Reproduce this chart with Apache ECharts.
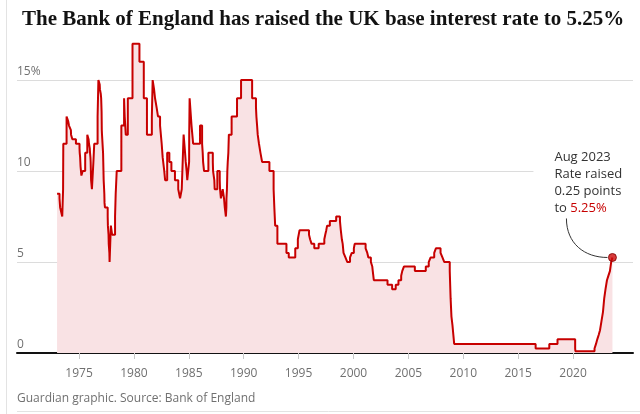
<!DOCTYPE html>
<html><head><meta charset="utf-8">
<script src="https://cdn.jsdelivr.net/npm/echarts@6/dist/echarts.min.js"></script>
<style>html,body{margin:0;padding:0;background:#fff}#c{width:640px;height:414px}</style>
</head><body><div id="c"></div><script>
const titleText = 'The Bank of England has raised the UK base interest rate to 5.25%';
const sourceText = 'Guardian graphic. Source: Bank of England';
const yearTicks = [1975, 1980, 1985, 1990, 1995, 2000, 2005, 2010, 2015, 2020];
const yTicks = [0, 5, 10, 15];
const changeDates = [
 '1973-01-01','1973-03-23','1973-04-13','1973-05-18','1973-06-22','1973-07-20','1973-07-27','1973-11-13',
 '1974-01-04','1974-02-01','1974-04-05','1974-04-11','1974-05-24','1974-09-20',
 '1975-01-17','1975-01-24','1975-02-07','1975-02-14','1975-02-21','1975-03-07','1975-03-21','1975-05-02','1975-07-25','1975-10-03','1975-11-14','1975-11-28','1975-12-24',
 '1976-01-02','1976-01-16','1976-01-23','1976-01-30','1976-02-06','1976-03-05','1976-04-23','1976-05-21','1976-09-10','1976-10-07','1976-11-19','1976-11-26','1976-12-24',
 '1977-01-07','1977-01-21','1977-01-28','1977-02-04','1977-03-11','1977-03-18','1977-03-31','1977-04-08','1977-04-15','1977-04-22','1977-04-29','1977-05-13','1977-08-12','1977-08-19','1977-09-09','1977-09-16','1977-10-07','1977-10-14','1977-11-25',
 '1978-01-06','1978-04-14','1978-05-05','1978-05-12','1978-06-08','1978-11-09',
 '1979-02-08','1979-03-01','1979-04-05','1979-06-12','1979-11-15',
 '1980-07-03','1980-11-25',
 '1981-03-10','1981-08-20','1981-09-16','1981-11-01','1981-12-04',
 '1982-01-25','1982-03-12','1982-05-20','1982-07-13','1982-08-15','1982-10-07','1982-11-04',
 '1983-01-12','1983-03-25','1983-06-01','1983-09-27',
 '1984-01-15','1984-03-15','1984-05-10','1984-07-12','1984-08-29','1984-09-20','1984-10-20','1984-11-10',
 '1985-01-11','1985-01-14','1985-01-28','1985-04-01','1985-05-25',
 '1986-01-09','1986-03-19','1986-04-08','1986-04-21','1986-05-23','1986-10-14',
 '1987-03-10','1987-03-19','1987-04-29','1987-05-11','1987-08-07','1987-10-26','1987-11-05','1987-12-04',
 '1988-02-02','1988-03-17','1988-04-11','1988-05-18','1988-06-03','1988-06-06','1988-06-22','1988-06-29','1988-07-05','1988-07-19','1988-08-08','1988-08-25','1988-11-25',
 '1989-05-24','1989-10-05','1990-10-08',
 '1991-02-13','1991-02-27','1991-03-22','1991-04-12','1991-05-24','1991-07-12','1991-09-04',
 '1992-05-05','1992-09-22','1992-10-16','1992-11-13','1993-01-26','1993-11-23',
 '1994-02-08','1994-09-12','1994-12-07','1995-02-02','1995-12-13',
 '1996-01-18','1996-03-08','1996-06-06','1996-10-30',
 '1997-05-06','1997-06-06','1997-07-10','1997-08-07','1997-11-06',
 '1998-06-04','1998-10-08','1998-11-05','1998-12-10',
 '1999-01-07','1999-02-04','1999-04-08','1999-06-10','1999-09-08','1999-11-04',
 '2000-01-13','2000-02-10',
 '2001-02-08','2001-04-05','2001-05-10','2001-08-02','2001-09-18','2001-10-04','2001-11-08',
 '2003-02-06','2003-07-10','2003-11-06',
 '2004-02-05','2004-05-06','2004-06-10','2004-08-05','2005-08-04','2006-08-03','2006-11-09',
 '2007-01-11','2007-05-10','2007-07-05','2007-12-06',
 '2008-02-07','2008-04-10','2008-10-08','2008-11-06','2008-12-04',
 '2009-01-08','2009-02-05','2009-03-05',
 '2016-08-04','2017-11-02','2018-08-02','2020-03-11','2020-03-19','2021-12-16',
 '2022-02-03','2022-03-17','2022-05-05','2022-06-16','2022-08-04','2022-09-22','2022-11-03','2022-12-15',
 '2023-02-02','2023-03-23','2023-05-11','2023-06-22','2023-08-03'
];
const rates = [
 8.75,8.5,8,7.75,7.5,9,11.5,13,
 12.75,12.5,12.25,12,11.75,11.5,
 11.25,11,10.75,10.5,10.25,10,9.75,10,11,12,11.75,11.5,11.25,
 11,10.75,10.5,10,9.5,9,10.5,11.5,13,15,14.75,14.5,14.25,
 14,13.25,12.25,12,11,10.5,9.5,9.25,9,8.75,8.25,8,7.5,7,6.5,6,5.5,5,7,
 6.5,7.5,8.75,9,10,12.5,
 14,13,12,14,17,
 16,14,
 12,13,15,14.5,14,
 13.5,13,12.5,11.5,10.75,10,9.5,
 11,10.5,10,9.5,
 9,8.5,9,12,11,10.5,10,9.5,
 10.5,12,14,12.5,11.5,
 12.5,11.5,11,10.5,10,11,
 10.5,10,9.5,9,10,9.5,9,8.5,
 9,8.5,8,7.5,8,8.5,9,9.5,10,10.5,11,12,13,
 14,15,14,
 13.5,13,12.5,12,11.5,11,10.5,
 10,9,8,7,6,5.5,
 5.25,5.75,6.25,6.75,6.5,
 6.25,6,5.75,6,
 6.25,6.5,6.75,7,7.25,
 7.5,7.25,6.75,6.25,
 6,5.5,5.25,5,5.25,5.5,
 5.75,6,
 5.75,5.5,5.25,5,4.75,4.5,4,
 3.75,3.5,3.75,
 4,4.25,4.5,4.75,4.5,4.75,5,
 5.25,5.5,5.75,5.5,
 5.25,5,4.5,3,2,
 1.5,1,0.5,
 0.25,0.5,0.75,0.25,0.1,0.25,
 0.5,0.75,1,1.25,1.75,2.25,3,3.5,
 4,4.25,4.5,5,5.25
];
const annotationText = 'Aug 2023\nRate raised\n0.25 points\nto ';
const annotationValue = '5.25%';

function toYear(s) {
  const p = s.split('-').map(Number);
  const t = Date.UTC(p[0], p[1] - 1, p[2]);
  const a = Date.UTC(p[0], 0, 1), b = Date.UTC(p[0] + 1, 0, 1);
  return p[0] + (t - a) / (b - a);
}
const seriesData = changeDates.map((d, i) => [toYear(d), rates[i]]);
const last = seriesData[seriesData.length - 1];

const chart = echarts.init(document.getElementById('c'), null, {renderer: 'canvas'});
chart.setOption({
  animation: false,
  title: {
    text: titleText, left: 17, top: 4,
    textStyle: {fontFamily: 'Liberation Serif', fontWeight: 'bold', fontSize: 21, color: '#121212'}
  },
  grid: {left: 17, right: 7, top: 0, bottom: 61},
  xAxis: {
    type: 'value', min: 1969.35, max: 2025.46,
    axisLine: {show: true, onZero: false, lineStyle: {color: '#121212', width: 2}},
    axisTick: {show: true, customValues: yearTicks, length: 6, lineStyle: {color: '#c8c8c8'}},
    axisLabel: {customValues: yearTicks, formatter: v => String(Math.round(v)), color: '#707070', fontFamily: 'Open Sans', fontSize: 12, margin: 15},
    splitLine: {show: false}
  },
  yAxis: {
    type: 'value', min: 0, max: 19.4, interval: 5,
    axisLine: {show: false}, axisTick: {show: false},
    axisLabel: {
      inside: true, margin: 0, verticalAlign: 'bottom', align: 'left', padding: [0, 0, 2, 0],
      color: '#707070', fontFamily: 'Open Sans', fontSize: 12,
      formatter: v => (yTicks.indexOf(v) < 0 ? '' : (v === 15 ? v + '%' : String(v)))
    },
    splitLine: {lineStyle: {color: ['#dcdcdc', '#dcdcdc', '#dcdcdc', '#dcdcdc', 'rgba(0,0,0,0)'], width: 1}}
  },
  series: [
    {type: 'line', step: 'end', data: seriesData, symbol: 'none', z: 3,
     lineStyle: {color: '#c70000', width: 2}, areaStyle: {color: '#f9e2e4', opacity: 1}},
    {type: 'scatter', data: [last], symbolSize: 8, z: 5,
     itemStyle: {color: '#cc0a0a', borderColor: '#7d0000', borderWidth: 1}}
  ]
});

const p = chart.convertToPixel({gridIndex: 0}, last);
chart.setOption({
  graphic: [
    {type: 'line', z: 100, shape: {x1: 6.5, y1: 0, x2: 6.5, y2: 414}, style: {stroke: '#e3e3e3', lineWidth: 1}},
    {type: 'line', z: 100, shape: {x1: 17, y1: 411.5, x2: 640, y2: 411.5}, style: {stroke: '#e3e3e3', lineWidth: 1}},
    {type: 'text', z: 100, x: 17, y: 393, style: {text: sourceText, fontFamily: 'Open Sans', fontSize: 12, fill: '#707070'}},
    {type: 'rect', z: 99, shape: {x: p[0] - 79, y: p[1] - 110, width: 120, height: 66}, style: {fill: '#ffffff'}},
    {type: 'text', z: 100, x: p[0] - 58, y: p[1] - 109,
     style: {text: annotationText + '{r|' + annotationValue + '}', fontFamily: 'Open Sans', fontSize: 13, lineHeight: 17, fill: '#333333',
       rich: {r: {fill: '#c70000', fontFamily: 'Open Sans', fontSize: 13, lineHeight: 17}}}},
    {type: 'bezierCurve', z: 100,
     shape: {x1: p[0] - 46, y1: p[1] - 39, cpx1: p[0] - 46, cpy1: p[1] - 14, cpx2: p[0] - 28, cpy2: p[1], x2: p[0] - 5, y2: p[1]},
     style: {stroke: '#333333', lineWidth: 1, fill: null}}
  ]
});
</script></body></html>
